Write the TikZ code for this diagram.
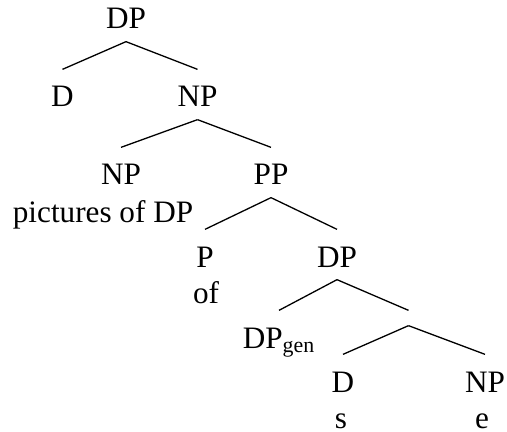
\documentclass[tikz,border=0pt]{standalone}
\usepackage{fontspec}
\setmainfont{Liberation Serif}

\begin{document}
\begin{tikzpicture}[x=0.5pt,y=-0.5pt,line width=0.65pt]

% Styles for category labels and the words under them.
\tikzset{cat/.style={anchor=base,inner sep=0pt,text height=18.5pt,text depth=6pt,
                     font=\fontsize{15.6}{18}\selectfont},
         wrd/.style={anchor=base,inner sep=0pt,font=\fontsize{15.6}{18}\selectfont}}

\useasboundingbox (0,0) rectangle (507,432);

% Category nodes.
\node[cat] (dpa) at (126,29) {DP};
\node[cat] (da) at (62.5,107) {D};
\node[cat] (npa) at (197.5,107) {NP};
\node[cat] (npb) at (121,185) {NP};
\node[cat] (pp) at (271,185) {PP};
\node[cat] (p) at (205,267) {P};
\node[cat] (dpb) at (337,267) {DP};
\node[cat] (dpgen) at (279,348) {DP\textsubscript{gen}};
\node[inner sep=0pt,minimum height=7pt] (dbar) at (408.5,318) {}; %unlabelled branch
\node[cat] (db) at (343,392) {D};
\node[cat] (npc) at (485,392) {NP};

% Words.
\node[wrd] (wpic) at (103,223) {pictures of DP};
\node[wrd] (wof) at (206,303) {of};
\node[wrd] (ws) at (341,428) {s};
\node[wrd] (we) at (482,428) {e};

% Branches.
\draw (dpa.south) -- (da.north);
\draw (dpa.south) -- (npa.north);
\draw (npa.south) -- (npb.north);
\draw (npa.south) -- (pp.north);
\draw (pp.south) -- (p.north);
\draw (pp.south) -- (dpb.north);
\draw (dpb.south) -- (dpgen.north);
\draw (dpb.south) -- (dbar.north);
\draw (dbar.south) -- (db.north);
\draw (dbar.south) -- (npc.north);

\end{tikzpicture}
\end{document}
